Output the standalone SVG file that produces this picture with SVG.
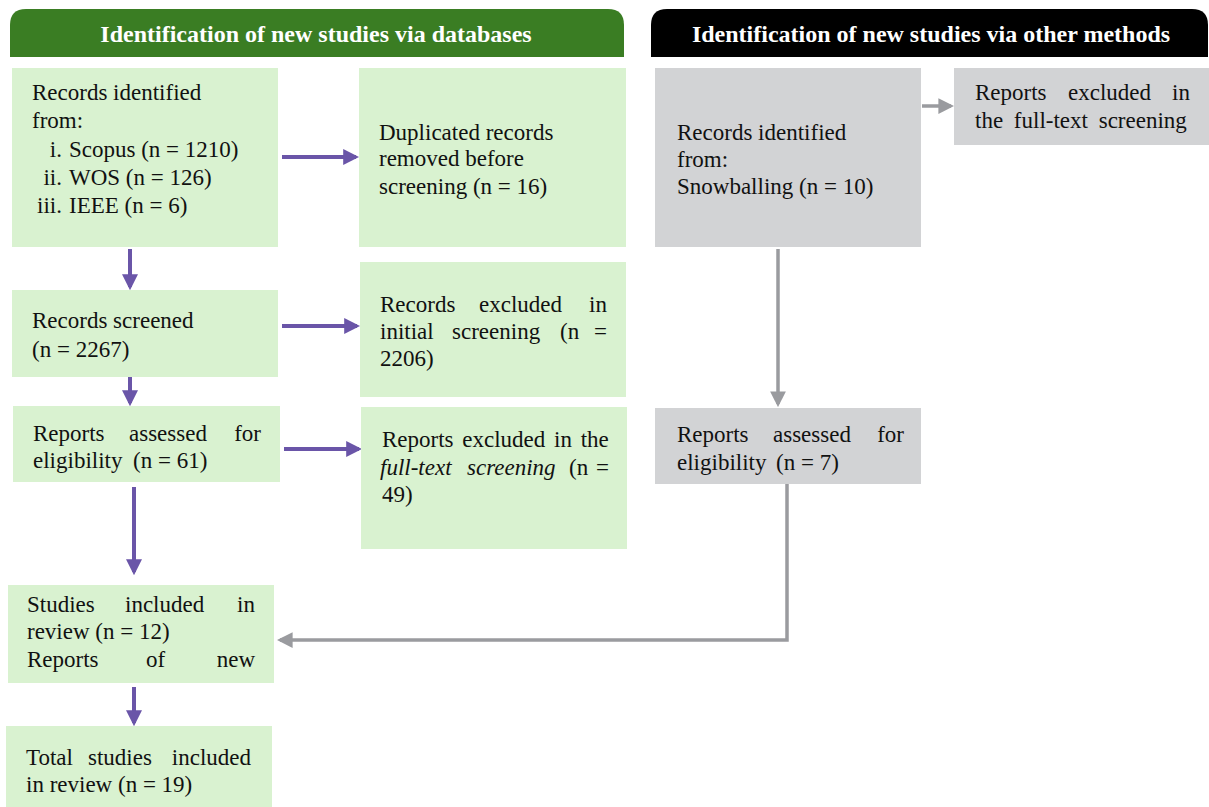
<svg xmlns="http://www.w3.org/2000/svg" width="1209" height="807" viewBox="0 0 1209 807" font-family="Liberation Serif, Times New Roman, serif">
  <style>
    .hdr { font-weight: bold; font-size: 24px; fill: #ffffff; text-anchor: middle; }
    .t { font-size: 23px; fill: #111111; }
    .e { text-anchor: end; }
    .green { fill: #d9f2d0; }
    .gray { fill: #d2d3d5; }
    .pl { stroke: #6a55a8; stroke-width: 4; fill: none; }
    .gl { stroke: #9a9b9f; stroke-width: 3.5; fill: none; }
  </style>
  <defs>
    <marker id="ap" markerWidth="4" markerHeight="4" refX="3.2" refY="2" orient="auto" markerUnits="strokeWidth">
      <path d="M0,0 L4,2 L0,4 Z" fill="#6a55a8"/>
    </marker>
    <marker id="ag" markerWidth="4.5" markerHeight="4.5" refX="3.6" refY="2.25" orient="auto" markerUnits="strokeWidth">
      <path d="M0,0 L4.5,2.25 L0,4.5 Z" fill="#9a9b9f"/>
    </marker>
  </defs>

  <rect width="1209" height="807" fill="#ffffff"/>

  <!-- section headers -->
  <g id="header-databases">
    <path d="M10,57 L10,25 Q10,9 26,9 L608,9 Q624,9 624,25 L624,57 Z" fill="#3a7d23"/>
    <text class="hdr" x="316" y="42">Identification of new studies via databases</text>
  </g>
  <g id="header-other">
    <path d="M651,57 L651,25 Q651,9 667,9 L1192,9 Q1208,9 1208,25 L1208,57 Z" fill="#000000"/>
    <text class="hdr" x="931" y="42">Identification of new studies via other methods</text>
  </g>

  <!-- connectors -->
  <g id="connectors">
    <line class="pl" x1="282" y1="157" x2="356" y2="157" marker-end="url(#ap)"/>
    <line class="pl" x1="130" y1="249" x2="130" y2="287" marker-end="url(#ap)"/>
    <line class="pl" x1="282" y1="326" x2="357" y2="326" marker-end="url(#ap)"/>
    <line class="pl" x1="130" y1="368" x2="130" y2="403" marker-end="url(#ap)"/>
    <line class="pl" x1="284" y1="449" x2="359" y2="449" marker-end="url(#ap)"/>
    <line class="pl" x1="134" y1="487" x2="134" y2="572" marker-end="url(#ap)"/>
    <line class="pl" x1="134" y1="687" x2="134" y2="723" marker-end="url(#ap)"/>
    <line class="gl" x1="922" y1="106" x2="951" y2="106" marker-end="url(#ag)"/>
    <line class="gl" x1="778" y1="249" x2="778" y2="404" marker-end="url(#ag)"/>
    <polyline class="gl" points="787,484 787,640 280,640" marker-end="url(#ag)"/>
  </g>

  <!-- databases column -->
  <g id="records-identified">
    <rect class="green" x="12" y="68" width="266" height="179"/>
    <text class="t" x="32" y="100">Records identified</text>
    <text class="t" x="32" y="128">from:</text>
    <text class="t e" x="62" y="157">i.</text>
    <text class="t" x="69" y="157">Scopus (n = 1210)</text>
    <text class="t e" x="62" y="185">ii.</text>
    <text class="t" x="69" y="185">WOS (n = 126)</text>
    <text class="t e" x="62" y="213">iii.</text>
    <text class="t" x="69" y="213">IEEE (n = 6)</text>
  </g>
  <g id="duplicates-removed">
    <rect class="green" x="359" y="68" width="267" height="179"/>
    <text class="t" x="379" y="140">Duplicated records</text>
    <text class="t" x="379" y="166">removed before</text>
    <text class="t" x="379" y="194">screening (n = 16)</text>
  </g>
  <g id="records-screened">
    <rect class="green" x="12" y="290" width="266" height="87"/>
    <text class="t" x="32" y="328">Records screened</text>
    <text class="t" x="32" y="357">(n = 2267)</text>
  </g>
  <g id="records-excluded">
    <rect class="green" x="360" y="262" width="266" height="135"/>
    <text class="t" x="380" y="312">Records</text>
    <text class="t" x="479" y="312">excluded</text>
    <text class="t e" x="607" y="312">in</text>
    <text class="t" x="380" y="339">initial</text>
    <text class="t" x="452" y="339">screening</text>
    <text class="t" x="560" y="339">(n</text>
    <text class="t e" x="607" y="339">=</text>
    <text class="t" x="380" y="366">2206)</text>
  </g>
  <g id="reports-assessed">
    <rect class="green" x="13" y="406" width="267" height="76"/>
    <text class="t" x="33" y="441">Reports</text>
    <text class="t" x="129" y="441">assessed</text>
    <text class="t e" x="261" y="441">for</text>
    <text class="t" x="33" y="468">eligibility</text>
    <text class="t" x="133" y="468">(n = 61)</text>
  </g>
  <g id="reports-excluded">
    <rect class="green" x="361" y="407" width="266" height="142"/>
    <text class="t" x="382" y="447" word-spacing="3">Reports excluded in the</text>
    <text class="t" x="380" y="475" font-style="italic">full-text</text>
    <text class="t" x="467" y="475" font-style="italic">screening</text>
    <text class="t" x="569" y="475">(n</text>
    <text class="t e" x="609" y="475">=</text>
    <text class="t" x="382" y="502">49)</text>
  </g>
  <g id="studies-included">
    <rect class="green" x="8" y="585" width="266" height="98"/>
    <text class="t" x="27" y="612">Studies</text>
    <text class="t" x="125" y="612">included</text>
    <text class="t e" x="255" y="612">in</text>
    <text class="t" x="27" y="639">review (n = 12)</text>
    <text class="t" x="27" y="667">Reports</text>
    <text class="t" x="146" y="667">of</text>
    <text class="t e" x="255" y="667">new</text>
  </g>
  <g id="total-studies">
    <rect class="green" x="6" y="726" width="266" height="81"/>
    <text class="t" x="26" y="765">Total</text>
    <text class="t" x="88" y="765">studies</text>
    <text class="t e" x="251" y="765">included</text>
    <text class="t" x="26" y="792">in review (n = 19)</text>
  </g>

  <!-- other methods column -->
  <g id="snowballing">
    <rect class="gray" x="655" y="68" width="266" height="179"/>
    <text class="t" x="677" y="140">Records identified</text>
    <text class="t" x="677" y="167">from:</text>
    <text class="t" x="677" y="194">Snowballing (n = 10)</text>
  </g>
  <g id="other-excluded">
    <rect class="gray" x="954" y="68" width="255" height="77"/>
    <text class="t" x="975" y="100">Reports</text>
    <text class="t" x="1068" y="100">excluded</text>
    <text class="t e" x="1190" y="100">in</text>
    <text class="t" x="975" y="128" word-spacing="5">the full-text screening</text>
  </g>
  <g id="other-assessed">
    <rect class="gray" x="655" y="408" width="266" height="76"/>
    <text class="t" x="677" y="442">Reports</text>
    <text class="t" x="773" y="442">assessed</text>
    <text class="t e" x="904" y="442">for</text>
    <text class="t" x="677" y="470">eligibility</text>
    <text class="t" x="776" y="470">(n = 7)</text>
  </g>
</svg>
